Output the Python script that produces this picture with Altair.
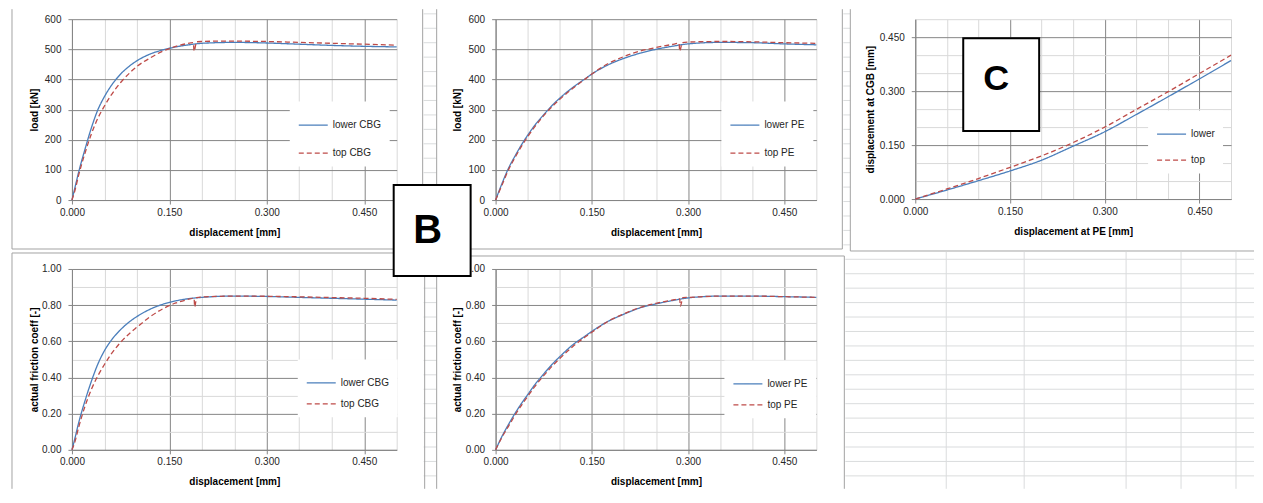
import altair as alt
import pandas as pd

# ------------------------------------------------------------------ data
# load vs displacement, CBG
cbg_lower_x = [0.000, 0.005, 0.010, 0.020, 0.030, 0.040, 0.050, 0.060, 0.075, 0.090, 0.100,
               0.120, 0.140, 0.160, 0.180, 0.200, 0.250, 0.300, 0.350, 0.400, 0.450, 0.500]
cbg_lower_load = [0, 45, 90, 168, 240, 300, 343, 378, 418, 447, 462,
                  484, 498, 508, 515, 520, 523, 521, 517, 513, 510, 508]
cbg_top_x = [0.000, 0.005, 0.010, 0.020, 0.030, 0.040, 0.050, 0.060, 0.075, 0.090, 0.100,
             0.120, 0.140, 0.160, 0.175, 0.187, 0.188, 0.192, 0.220, 0.250, 0.300, 0.350,
             0.400, 0.450, 0.500]
cbg_top_load = [0, 35, 80, 155, 220, 272, 312, 347, 390, 424, 443,
                471, 494, 510, 518, 522, 494, 525, 527, 527, 526, 523,
                520, 517, 514]

# load vs displacement, PE
pe_lower_x = [0.000, 0.010, 0.020, 0.030, 0.040, 0.050, 0.060, 0.075, 0.090, 0.100, 0.120,
              0.140, 0.150, 0.175, 0.200, 0.225, 0.250, 0.275, 0.300, 0.350, 0.400, 0.450, 0.500]
pe_lower_load = [0, 55, 105, 145, 182, 215, 245, 283, 318, 338, 373,
                 403, 418, 448, 470, 487, 500, 510, 518, 523, 522, 518, 515]
pe_top_x = [0.000, 0.010, 0.020, 0.030, 0.040, 0.050, 0.060, 0.075, 0.090, 0.100, 0.120,
            0.140, 0.150, 0.175, 0.200, 0.225, 0.250, 0.275, 0.286, 0.287, 0.291, 0.300,
            0.350, 0.400, 0.450, 0.500]
pe_top_load = [0, 50, 100, 140, 177, 210, 240, 280, 314, 334, 370,
               402, 418, 452, 476, 494, 506, 516, 520, 494, 522, 524,
               526, 525, 522, 520]

# displacement at CGB vs displacement at PE
c_x = [0.00, 0.05, 0.10, 0.15, 0.20, 0.25, 0.30, 0.35, 0.40, 0.45, 0.50]
c_lower = [0.000, 0.025, 0.051, 0.078, 0.108, 0.147, 0.187, 0.235, 0.284, 0.334, 0.385]
c_top = [0.000, 0.028, 0.057, 0.088, 0.120, 0.157, 0.200, 0.249, 0.298, 0.349, 0.400]

# friction coefficient, CBG
fc_cbg_lower_x = [0.000, 0.005, 0.010, 0.020, 0.030, 0.040, 0.050, 0.060, 0.075, 0.090, 0.100,
                  0.120, 0.140, 0.160, 0.180, 0.200, 0.250, 0.300, 0.350, 0.400, 0.450, 0.500]
fc_cbg_lower = [0.00, 0.07, 0.145, 0.27, 0.38, 0.475, 0.548, 0.603, 0.665, 0.712, 0.737,
                0.777, 0.805, 0.824, 0.836, 0.843, 0.85, 0.848, 0.843, 0.838, 0.833, 0.828]
fc_cbg_top_x = [0.000, 0.005, 0.010, 0.020, 0.030, 0.040, 0.050, 0.060, 0.075, 0.090, 0.100,
                0.120, 0.140, 0.160, 0.175, 0.188, 0.189, 0.192, 0.220, 0.250, 0.300, 0.350,
                0.400, 0.450, 0.500]
fc_cbg_top = [0.00, 0.05, 0.12, 0.24, 0.335, 0.41, 0.472, 0.527, 0.595, 0.648, 0.678,
              0.735, 0.78, 0.812, 0.828, 0.838, 0.79, 0.842, 0.848, 0.85, 0.849, 0.846,
              0.842, 0.838, 0.832]

# friction coefficient, PE
fc_pe_lower_x = [0.000, 0.010, 0.020, 0.030, 0.040, 0.050, 0.060, 0.075, 0.090, 0.100, 0.120,
                 0.140, 0.150, 0.175, 0.200, 0.225, 0.250, 0.275, 0.300, 0.350, 0.400, 0.450, 0.500]
fc_pe_lower = [0.00, 0.075, 0.14, 0.20, 0.255, 0.305, 0.355, 0.42, 0.48, 0.515, 0.58,
               0.63, 0.655, 0.71, 0.75, 0.785, 0.807, 0.825, 0.84, 0.85, 0.85, 0.847, 0.843]
fc_pe_top_x = [0.000, 0.010, 0.020, 0.030, 0.040, 0.050, 0.060, 0.075, 0.090, 0.100, 0.120,
               0.140, 0.150, 0.175, 0.200, 0.225, 0.250, 0.275, 0.287, 0.288, 0.292, 0.300,
               0.350, 0.400, 0.450, 0.500]
fc_pe_top = [0.00, 0.07, 0.13, 0.19, 0.245, 0.295, 0.345, 0.41, 0.47, 0.505, 0.57,
             0.625, 0.65, 0.71, 0.752, 0.787, 0.81, 0.828, 0.835, 0.795, 0.842, 0.843,
             0.85, 0.85, 0.847, 0.843]

x_ticks = [0.0, 0.05, 0.1, 0.15, 0.2, 0.25, 0.3, 0.35, 0.4, 0.45, 0.5]
load_ticks = [0, 100, 200, 300, 400, 500, 600]
fc_ticks = [0.0, 0.1, 0.2, 0.3, 0.4, 0.5, 0.6, 0.7, 0.8, 0.9, 1.0]
c_ticks = [0.0, 0.05, 0.1, 0.15, 0.2, 0.25, 0.3, 0.35, 0.4, 0.45, 0.5]

# ------------------------------------------------------------------ style
FONT = "Liberation Sans"
BLUE = "#4a7ebb"
RED = "#be4b48"
MAJOR = "#868686"
MINOR = "#d9d9d9"
SHEET = "#dadcdd"
BORDER = "#a3a3a3"


def series_df(pairs):
    rows = []
    for name, xs, ys in pairs:
        for i, (a, b) in enumerate(zip(xs, ys)):
            rows.append({"x": a, "y": b, "series": name, "i": i})
    return pd.DataFrame(rows)


def make_axis(values, step, fmt, title, orient, size_along, title_off, label_pad):
    test = f"abs(datum.value/{step} - round(datum.value/{step})) < 0.000001"
    kw = dict(
        values=values,
        labelExpr=f"({test}) ? format(datum.value, '{fmt}') : ''",
        grid=True,
        gridColor={"condition": {"test": test, "value": MAJOR}, "value": MINOR},
        gridWidth=1,
        tickOpacity={"condition": {"test": test, "value": 1}, "value": 0},
        tickColor=MAJOR, tickSize=4, tickWidth=1,
        domainColor=MAJOR, domainWidth=1,
        labelFont=FONT, labelFontSize=10, labelColor="#262626",
        labelFlush=False, labelOverlap=False, labelPadding=label_pad,
        title=title, titleFont=FONT, titleFontSize=10, titleFontWeight="bold",
        titleColor="#000000", titleAlign="center", titleBaseline="middle",
    )
    if orient == "bottom":
        kw.update(titleX=size_along / 2, titleY=title_off, titleAngle=0)
    else:
        kw.update(titleX=-title_off, titleY=size_along / 2, titleAngle=270)
    return alt.Axis(**kw)


def panel(df, names, w, h, ydom, yvals, ystep, yfmt, ytitle, ytitle_off, xtitle,
          leg_x, leg_y, row_pad, extra_before=(), extra_after=()):
    legend = alt.Legend(
        orient="none", legendX=leg_x, legendY=leg_y, title=None,
        fillColor="white", padding=8, symbolType="stroke", symbolSize=841,
        symbolStrokeWidth=1.3, labelFont=FONT, labelFontSize=10,
        labelColor="#262626", labelOffset=4, rowPadding=row_pad,
    )
    lines = alt.Chart(df).mark_line(strokeWidth=1.3, interpolate="monotone").encode(
        x=alt.X("x:Q", scale=alt.Scale(domain=[0, 0.5], nice=False, zero=False),
                axis=make_axis(x_ticks, 0.15, ".3f", xtitle, "bottom", w, 32, 3)),
        y=alt.Y("y:Q", scale=alt.Scale(domain=ydom, nice=False, zero=False),
                axis=make_axis(yvals, ystep, yfmt, ytitle, "left", h, ytitle_off, 7)),
        color=alt.Color("series:N", scale=alt.Scale(domain=names, range=[BLUE, RED]),
                        legend=legend),
        strokeDash=alt.StrokeDash("series:N",
                                  scale=alt.Scale(domain=names, range=[[1, 0], [5, 3]]),
                                  legend=legend),
        order=alt.Order("i:Q"),
    )
    layers = list(extra_before) + [lines] + list(extra_after)
    return alt.layer(*layers).properties(width=w, height=h)


# ------------------------------------------------------------------ decoration
# spreadsheet background and panel frames (pixel positions relative to panel 1 plot origin)
OX, OY = 72, 18   # page position of panel 1's plot origin
sheet_segs = []
frame_segs = []


def seg(lst, x1, y1, x2, y2):
    lst.append({"px": x1 - OX, "py": y1 - OY, "px2": x2 - OX, "py2": y2 - OY})


for k in range(-17, 16):
    ry = 258.3 + 14.45 * k
    if ry < 9 or ry > 487:
        continue
    seg(sheet_segs, 424, ry, 437, ry)
    if ry < 249:
        seg(sheet_segs, 844, ry, 851, ry)
    if ry > 252:
        seg(sheet_segs, 846, ry, 1255, ry)
for cx in [947, 1025, 1127, 1182, 1237]:
    seg(sheet_segs, cx, 251, cx, 488)

seg(frame_segs, 12, 8, 12, 248); seg(frame_segs, 423, 8, 423, 248); seg(frame_segs, 12, 248, 423, 248)
seg(frame_segs, 437, 8, 437, 248); seg(frame_segs, 843, 8, 843, 248); seg(frame_segs, 437, 248, 843, 248)
seg(frame_segs, 851, 8, 851, 250); seg(frame_segs, 851, 250, 1255, 250)
seg(frame_segs, 12, 252, 425, 252); seg(frame_segs, 12, 252, 12, 488); seg(frame_segs, 425, 252, 425, 488)
seg(frame_segs, 437, 255, 845, 255); seg(frame_segs, 437, 255, 437, 488); seg(frame_segs, 845, 255, 845, 488)


def rules(segs, color):
    return alt.Chart(pd.DataFrame(segs)).mark_rule(strokeWidth=1, color=color).encode(
        x=alt.X("px:Q", scale=None, axis=None), x2="px2:Q",
        y=alt.Y("py:Q", scale=None, axis=None), y2="py2:Q",
    )


sheet = rules(sheet_segs, SHEET)
frames = rules(frame_segs, BORDER)

# canvas extent holder (page 8..1255 x 8..488)
canvas = alt.Chart(pd.DataFrame({"a": [0]})).mark_rect(opacity=0).encode(
    x=alt.value(8 - OX), x2=alt.value(1255 - OX), y=alt.value(8 - OY), y2=alt.value(488 - OY)
)

# "B" label box, drawn in panel 5 (plot origin at page 496, 268)
b_box = alt.Chart(pd.DataFrame({"a": [0]})).mark_rect(
    fill="white", stroke="black", strokeWidth=2).encode(
    x=alt.value(394 - 496), x2=alt.value(471 - 496), y=alt.value(184 - 268), y2=alt.value(275 - 268))
b_txt = alt.Chart(pd.DataFrame({"t": ["B"]})).mark_text(
    font=FONT, fontSize=40, fontWeight="bold", color="black",
    align="center", baseline="alphabetic").encode(
    text="t:N", x=alt.value(428 - 496), y=alt.value(242 - 268))

# "C" label box, drawn in panel 3 (plot origin at page 916, 18)
c_box = alt.Chart(pd.DataFrame({"a": [0]})).mark_rect(
    fill="white", stroke="black", strokeWidth=2).encode(
    x=alt.value(964 - 916), x2=alt.value(1040 - 916), y=alt.value(37 - 18), y2=alt.value(130 - 18))
c_txt = alt.Chart(pd.DataFrame({"t": ["C"]})).mark_text(
    font=FONT, fontSize=36, fontWeight="bold", color="black",
    align="center", baseline="alphabetic").encode(
    text="t:N", x=alt.value(997 - 916), y=alt.value(89 - 18))

# ------------------------------------------------------------------ panels
p1 = panel(series_df([("lower CBG", cbg_lower_x, cbg_lower_load), ("top CBG", cbg_top_x, cbg_top_load)]),
           ["lower CBG", "top CBG"], 325, 181, [0, 600], load_ticks, 100, "d", "load [kN]", 37,
           "displacement [mm]", 218, 82.5, 7, extra_before=[canvas, sheet, frames])
p2 = panel(series_df([("lower PE", pe_lower_x, pe_lower_load), ("top PE", pe_top_x, pe_top_load)]),
           ["lower PE", "top PE"], 321, 181, [0, 600], load_ticks, 100, "d", "load [kN]", 38,
           "displacement [mm]", 226, 82.5, 7)
p3 = panel(series_df([("lower", c_x, c_lower), ("top", c_x, c_top)]),
           ["lower", "top"], 316, 180, [0, 0.5], c_ticks, 0.15, ".3f", "displacement at CGB [mm]", 45,
           "displacement at PE [mm]", 233, 91.5, 5, extra_before=[c_box, c_txt])
p4 = panel(series_df([("lower CBG", fc_cbg_lower_x, fc_cbg_lower), ("top CBG", fc_cbg_top_x, fc_cbg_top)]),
           ["lower CBG", "top CBG"], 325, 181, [0, 1], fc_ticks, 0.2, ".2f", "actual friction coeff [-]", 37,
           "displacement [mm]", 226, 90.5, 0)
p5 = panel(series_df([("lower PE", fc_pe_lower_x, fc_pe_lower), ("top PE", fc_pe_top_x, fc_pe_top)]),
           ["lower PE", "top PE"], 321, 181, [0, 1], fc_ticks, 0.2, ".2f", "actual friction coeff [-]", 38,
           "displacement [mm]", 229, 91.5, 0, extra_after=[b_box, b_txt])

chart = alt.ConcatChart(
    concat=[p1, p2, p3, p4, p5], columns=3,
    spacing=alt.RowColnumber(row=69, column=99),
    bounds="flush", align="each",
).resolve_scale(
    color="independent", strokeDash="independent", x="independent", y="independent"
).resolve_legend(
    color="independent", strokeDash="independent"
).properties(padding=0, background="white").configure_view(stroke=None)

chart.save("out.html", embed_options={"renderer": "svg", "actions": False})
